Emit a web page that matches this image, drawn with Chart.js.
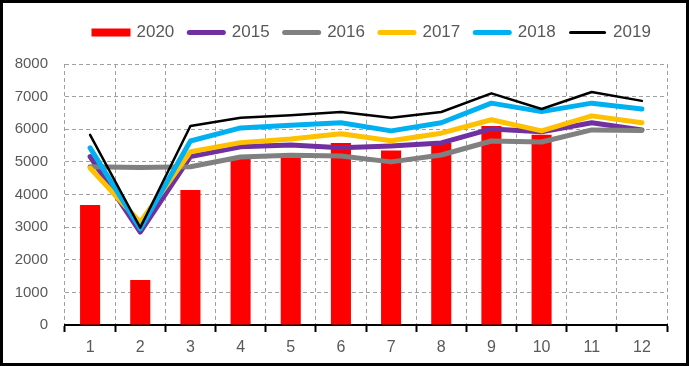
<!DOCTYPE html>
<html>
<head>
<meta charset="utf-8">
<script src="https://cdn.jsdelivr.net/npm/chart.js@4/dist/chart.umd.min.js"></script>
<style>
    html, body { margin: 0; padding: 0; background: #fff; }
    .frame { width: 689px; height: 366px; box-sizing: border-box; border: 3px solid #000; }
    canvas { display: block; }
</style>
</head>
<body>
<div class="frame"><canvas id="salesChart" width="683" height="360"></canvas></div>
<script>
// Monthly values
const months = ['1', '2', '3', '4', '5', '6', '7', '8', '9', '10', '11', '12'];
const y2020 = [3680, 1380, 4140, 5120, 5160, 5580, 5350, 5580, 6100, 5830, null, null];
const y2015 = [5160, 2850, 5160, 5460, 5520, 5430, 5490, 5580, 6010, 5920, 6200, 5980];
const y2016 = [4850, 4830, 4850, 5150, 5200, 5180, 5000, 5210, 5640, 5610, 5980, 5960];
const y2017 = [4810, 3150, 5310, 5590, 5700, 5860, 5650, 5880, 6290, 5950, 6410, 6200];
const y2018 = [5430, 2950, 5640, 6040, 6120, 6200, 5950, 6200, 6800, 6540, 6800, 6620];
const y2019 = [5830, 2980, 6100, 6350, 6430, 6530, 6350, 6530, 7100, 6620, 7140, 6870];
const yTicks = [0, 1000, 2000, 3000, 4000, 5000, 6000, 7000, 8000];

const textColor = '#595959';
const fontFamily = "'Liberation Sans', Arial, sans-serif";

function lineSet(label, data, color, width, order) {
    return {
        type: 'line',
        label: label,
        data: data,
        borderColor: color,
        backgroundColor: color,
        borderWidth: width,
        borderJoinStyle: 'round',
        borderCapStyle: 'round',
        pointRadius: 0,
        tension: 0,
        order: order
    };
}

// keep the legend where the original has it
const legendPlace = {
    id: 'legendPlace',
    beforeLayout(chart) {
        const legend = chart.legend;
        if (legend._fixedFit) return;
        const fit = legend.fit;
        legend.fit = function () { fit.call(this); this.height = 61; };
        legend._fixedFit = true;
    },
    afterLayout(chart) {
        chart.legend.left = 76;
        chart.legend.top = 6;
    }
};

const ctx = document.getElementById('salesChart').getContext('2d');
new Chart(ctx, {
    type: 'bar',
    data: {
        labels: months,
        datasets: [
            {
                label: '2020',
                data: y2020,
                backgroundColor: '#ff0000',
                barPercentage: 0.4,
                categoryPercentage: 1,
                order: 5
            },
            lineSet('2015', y2015, '#7030a0', 5, 4),
            lineSet('2016', y2016, '#808080', 5, 3),
            lineSet('2017', y2017, '#ffc000', 5, 2),
            lineSet('2018', y2018, '#00b0f0', 5, 1),
            lineSet('2019', y2019, '#000000', 2.5, 0)
        ]
    },
    options: {
        responsive: false,
        animation: false,
        layout: { padding: { right: 19 } },
        plugins: {
            tooltip: { enabled: false },
            legend: {
                position: 'top',
                align: 'start',
                labels: {
                    usePointStyle: true,
                    pointStyleWidth: 34,
                    boxHeight: 3,
                    padding: 15,
                    color: textColor,
                    font: { family: fontFamily, size: 17 },
                    generateLabels: chart => chart.data.datasets.map((ds, i) => ({
                        text: ds.label,
                        datasetIndex: i,
                        fillStyle: ds.backgroundColor,
                        strokeStyle: ds.backgroundColor,
                        lineWidth: ds.type === 'line' ? Math.max(ds.borderWidth, 3) : 5,
                        lineCap: 'round',
                        lineJoin: ds.type === 'line' ? 'round' : 'miter',
                        pointStyle: ds.type === 'line' ? 'line' : 'rect',
                        fontColor: textColor
                    }))
                }
            }
        },
        scales: {
            x: {
                offset: true,
                grid: {
                    offset: true,
                    color: '#a0a0a0',
                    lineWidth: 1,
                    tickColor: '#000',
                    tickWidth: 2,
                    tickLength: 7,
                    tickBorderDash: []
                },
                border: { display: true, color: '#000', width: 2, dash: [4, 3] },
                ticks: {
                    color: textColor,
                    padding: 6,
                    font: { family: fontFamily, size: 16 }
                },
                afterFit: scale => { scale.height = 38; }
            },
            y: {
                min: 0,
                max: 8000,
                afterBuildTicks: scale => { scale.ticks = yTicks.map(v => ({ value: v })); },
                grid: { color: '#a0a0a0', lineWidth: 1, drawTicks: false },
                border: { display: false, dash: [4, 3] },
                ticks: {
                    color: textColor,
                    padding: 17,
                    font: { family: fontFamily, size: 15 },
                    callback: value => String(value)
                },
                afterFit: scale => { scale.width = 62; }
            }
        }
    },
    plugins: [legendPlace]
});
</script>
</body>
</html>
